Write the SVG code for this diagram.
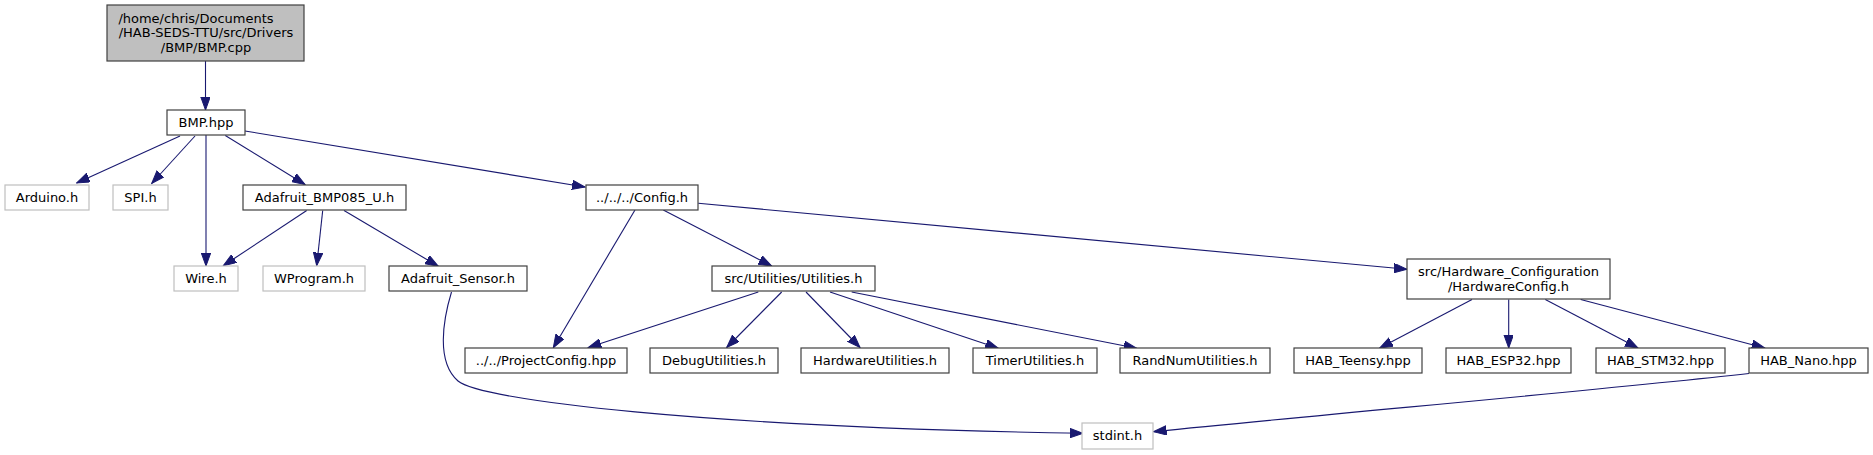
<svg xmlns="http://www.w3.org/2000/svg" width="1873" height="455" viewBox="0 0 1873 455">
<style>
text{font-family:"DejaVu Sans","Liberation Sans",sans-serif;font-size:13px;fill:#000;text-anchor:middle}
.n rect{fill:#fff;stroke:#404040;stroke-width:1.2}
.g rect{fill:#fff;stroke:#bfbfbf;stroke-width:1.2}
.r rect{fill:#bfbfbf;stroke:#404040;stroke-width:1.2}
#edges path{fill:none;stroke:#191970;stroke-width:1.1;marker-end:url(#ah)}
</style>
<defs>
<marker id="ah" markerUnits="userSpaceOnUse" markerWidth="14" markerHeight="10" refX="13" refY="4.7" orient="auto">
<path d="M0,0 L13,4.7 L0,9.4 Z" fill="#191970" stroke="#191970" stroke-width="1"/>
</marker>
</defs>
<rect width="1873" height="455" fill="#fff"/>
<g id="edges">
<path d="M205.5,61 L205.5,110"/>
<path d="M180,136 L76.7,183"/>
<path d="M195,136 L151.7,183.5"/>
<path d="M206,135 L206,266"/>
<path d="M225.3,135.5 L305,184.5"/>
<path d="M245,131 L585,187"/>
<path d="M306.7,210.5 L223.3,265.7"/>
<path d="M322.7,210.5 L316.7,265.7"/>
<path d="M344,210.5 L438.3,266.3"/>
<path d="M635,210 L553.3,347.7"/>
<path d="M663.3,210 L771.7,266"/>
<path d="M698.3,203.3 L1407,269.3"/>
<path d="M758.3,292 L588.3,347.5"/>
<path d="M781.7,292 L726.7,347.5"/>
<path d="M806,292 L860,347.5"/>
<path d="M830,292 L998.3,348.3"/>
<path d="M851.7,292 L1136.7,348.3"/>
<path d="M1472,299.5 L1379.7,348"/>
<path d="M1508.7,299.5 L1508.7,348"/>
<path d="M1545.3,299.5 L1638,348"/>
<path d="M1580.7,299.5 L1764.7,348"/>
<path d="M1749,373.5 C1600,390 1350,412 1153.5,431.7"/>
<path d="M451.5,292 C443,320 436,362 458,381 C480,400 700,427 1083,433.3"/>
</g>
<g id="root" class="r"><rect x="107" y="5" width="197" height="56"/>
<text x="196" y="22.5">/home/chris/Documents</text>
<text x="206" y="37.3">/HAB-SEDS-TTU/src/Drivers</text>
<text x="206" y="52">/BMP/BMP.cpp</text></g>
<g id="bmp_hpp" class="n"><rect x="167" y="110" width="78" height="25"/><text x="206" y="126.5">BMP.hpp</text></g>
<g id="arduino_h" class="g"><rect x="5" y="185" width="84" height="25"/><text x="47" y="201.5">Arduino.h</text></g>
<g id="spi_h" class="g"><rect x="113" y="185" width="55" height="25"/><text x="140.5" y="201.5">SPI.h</text></g>
<g id="adafruit_bmp085_u_h" class="n"><rect x="243" y="185" width="163" height="25"/><text x="324.5" y="201.5">Adafruit_BMP085_U.h</text></g>
<g id="config_h" class="n"><rect x="586" y="185" width="112" height="25"/><text x="642" y="201.5">../../../Config.h</text></g>
<g id="wire_h" class="g"><rect x="174" y="266" width="64" height="25"/><text x="206" y="282.5">Wire.h</text></g>
<g id="wprogram_h" class="g"><rect x="263" y="266" width="102" height="25"/><text x="314" y="282.5">WProgram.h</text></g>
<g id="adafruit_sensor_h" class="n"><rect x="389" y="266" width="138" height="25"/><text x="458" y="282.5">Adafruit_Sensor.h</text></g>
<g id="utilities_h" class="n"><rect x="712" y="266" width="163" height="25"/><text x="793.5" y="282.5">src/Utilities/Utilities.h</text></g>
<g id="hardwareconfig_h" class="n"><rect x="1407" y="259" width="203" height="40"/>
<text x="1508.5" y="276">src/Hardware_Configuration</text>
<text x="1508.5" y="290.7">/HardwareConfig.h</text></g>
<g id="projectconfig_hpp" class="n"><rect x="465" y="348" width="162" height="25"/><text x="546" y="364.5">../../ProjectConfig.hpp</text></g>
<g id="debugutilities_h" class="n"><rect x="650" y="348" width="128" height="25"/><text x="714" y="364.5">DebugUtilities.h</text></g>
<g id="hardwareutilities_h" class="n"><rect x="801" y="348" width="148" height="25"/><text x="875" y="364.5">HardwareUtilities.h</text></g>
<g id="timerutilities_h" class="n"><rect x="973" y="348" width="124" height="25"/><text x="1035" y="364.5">TimerUtilities.h</text></g>
<g id="randnumutilities_h" class="n"><rect x="1120" y="348" width="150" height="25"/><text x="1195" y="364.5">RandNumUtilities.h</text></g>
<g id="hab_teensy_hpp" class="n"><rect x="1294" y="348" width="128" height="25"/><text x="1358" y="364.5">HAB_Teensy.hpp</text></g>
<g id="hab_esp32_hpp" class="n"><rect x="1446" y="348" width="125" height="25"/><text x="1508.5" y="364.5">HAB_ESP32.hpp</text></g>
<g id="hab_stm32_hpp" class="n"><rect x="1596" y="348" width="129" height="25"/><text x="1660.5" y="364.5">HAB_STM32.hpp</text></g>
<g id="hab_nano_hpp" class="n"><rect x="1749" y="348" width="119" height="25"/><text x="1808.5" y="364.5">HAB_Nano.hpp</text></g>
<g id="stdint_h" class="g"><rect x="1082" y="423" width="71" height="26"/><text x="1117.5" y="440">stdint.h</text></g>
</svg>
